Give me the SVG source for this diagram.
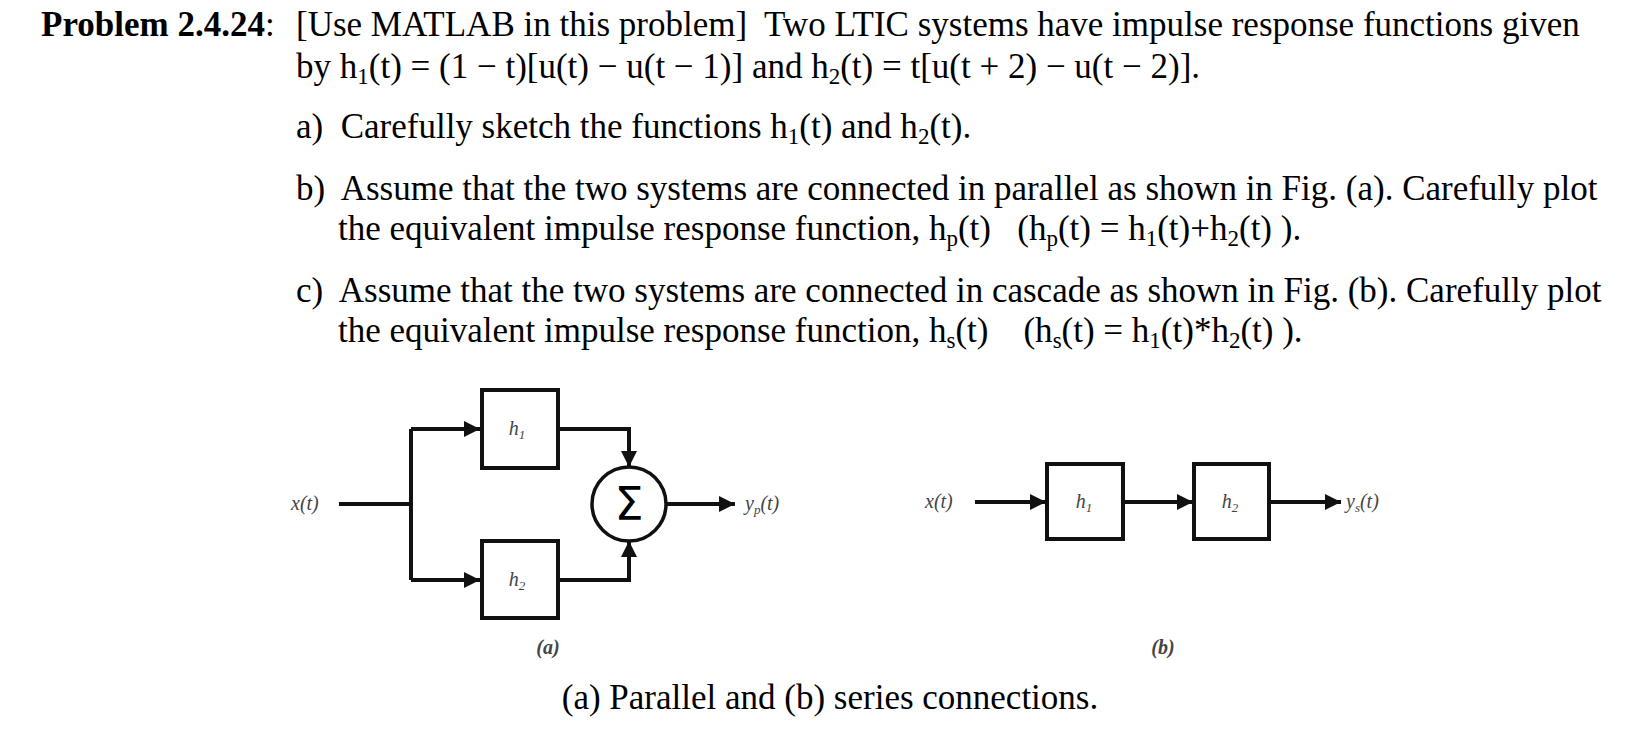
<svg xmlns="http://www.w3.org/2000/svg" width="1634" height="746" viewBox="0 0 1634 746">
<style>
.t{font-family:"Liberation Serif",serif;font-size:35px;fill:#000;white-space:pre}
.d{font-family:"Liberation Serif",serif;font-style:italic;font-size:20px;fill:#444}
.s{font-size:23px}
.ln{fill:none;stroke:#111;stroke-width:4}
.bx{fill:#fff;stroke:#111;stroke-width:4}
</style>
<defs>
<marker id="ar" viewBox="0 0 10 10" refX="10" refY="5" markerWidth="16" markerHeight="16" orient="auto" markerUnits="userSpaceOnUse"><path d="M0,0L10,5L0,10z" fill="#111"/></marker></defs>
<rect width="1634" height="746" fill="#fff"/>
<g id="text">
<text class="t" x="41" y="36"><tspan font-weight="bold">Problem 2.4.24</tspan>:</text>
<text class="t" x="296" y="36">[Use MATLAB in this problem]  Two LTIC systems have impulse response functions given</text>
<text class="t" x="296" y="78">by h<tspan class="s" dy="6">1</tspan><tspan dy="-6">(t) = (1 − t)[u(t) − u(t − 1)] and h</tspan><tspan class="s" dy="6">2</tspan><tspan dy="-6">(t) = t[u(t + 2) − u(t − 2)].</tspan></text>
<text class="t" x="296" y="138">a)  Carefully sketch the functions h<tspan class="s" dy="6">1</tspan><tspan dy="-6">(t) and h</tspan><tspan class="s" dy="6">2</tspan><tspan dy="-6">(t).</tspan></text>
<text class="t" x="296" y="200">b)  Assume that the two systems are connected in parallel as shown in Fig. (a). Carefully plot</text>
<text class="t" x="338" y="240">the equivalent impulse response function, h<tspan class="s" dy="6">p</tspan><tspan dy="-6">(t)   (h</tspan><tspan class="s" dy="6">p</tspan><tspan dy="-6">(t) = h</tspan><tspan class="s" dy="6">1</tspan><tspan dy="-6">(t)+h</tspan><tspan class="s" dy="6">2</tspan><tspan dy="-6">(t) ).</tspan></text>
<text class="t" x="296" y="302">c)  Assume that the two systems are connected in cascade as shown in Fig. (b). Carefully plot</text>
<text class="t" x="338" y="342">the equivalent impulse response function, h<tspan class="s" dy="6">s</tspan><tspan dy="-6">(t)    (h</tspan><tspan class="s" dy="6">s</tspan><tspan dy="-6">(t) = h</tspan><tspan class="s" dy="6">1</tspan><tspan dy="-6">(t)*h</tspan><tspan class="s" dy="6">2</tspan><tspan dy="-6">(t) ).</tspan></text>
<text class="t" x="830" y="709" text-anchor="middle">(a) Parallel and (b) series connections.</text>
<text class="d" x="548" y="654" text-anchor="middle" font-style="normal" font-weight="bold">(a)</text>
<text class="d" x="1163" y="654" text-anchor="middle" font-style="normal" font-weight="bold">(b)</text>
</g>
<g id="connectors">
<path class="ln" d="M339,504H411M411,429V580M411,429H480" marker-end="url(#ar)"/>
<path class="ln" d="M411,580H480" marker-end="url(#ar)"/>
<path class="ln" d="M558,429H629V467" marker-end="url(#ar)"/>
<path class="ln" d="M558,580H629V541" marker-end="url(#ar)"/>
<path class="ln" d="M666,504H735" marker-end="url(#ar)"/>
<path class="ln" d="M975,502H1046" marker-end="url(#ar)"/>
<path class="ln" d="M1124,502H1193" marker-end="url(#ar)"/>
<path class="ln" d="M1270,502H1341" marker-end="url(#ar)"/>
</g>
<g id="xa"><text class="d" x="291" y="510">x(t)</text></g>
<g id="h1a"><rect class="bx" x="482" y="390" width="76" height="78"/><text class="d" x="517" y="435" text-anchor="middle">h<tspan font-size="13" dy="4">1</tspan></text></g>
<g id="h2a"><rect class="bx" x="482" y="541" width="76" height="77"/><text class="d" x="517" y="586" text-anchor="middle">h<tspan font-size="13" dy="4">2</tspan></text></g>
<g id="sum"><circle cx="629" cy="504" r="37" fill="#fff" stroke="#111" stroke-width="3.5"/><text x="629" y="520" text-anchor="middle" style="font-family:'DejaVu Sans',sans-serif;font-size:46px">Σ</text></g>
<g id="ya"><text class="d" x="745" y="510">y<tspan font-size="13" dy="4">p</tspan><tspan dy="-4">(t)</tspan></text></g>
<g id="xb"><text class="d" x="925" y="508">x(t)</text></g>
<g id="h1b"><rect class="bx" x="1047" y="464" width="76" height="75"/><text class="d" x="1084" y="508" text-anchor="middle">h<tspan font-size="13" dy="4">1</tspan></text></g>
<g id="h2b"><rect class="bx" x="1194" y="464" width="75" height="75"/><text class="d" x="1230" y="508" text-anchor="middle">h<tspan font-size="13" dy="4">2</tspan></text></g>
<g id="yb"><text class="d" x="1346" y="508">y<tspan font-size="13" dy="4">s</tspan><tspan dy="-4">(t)</tspan></text></g>
</svg>
